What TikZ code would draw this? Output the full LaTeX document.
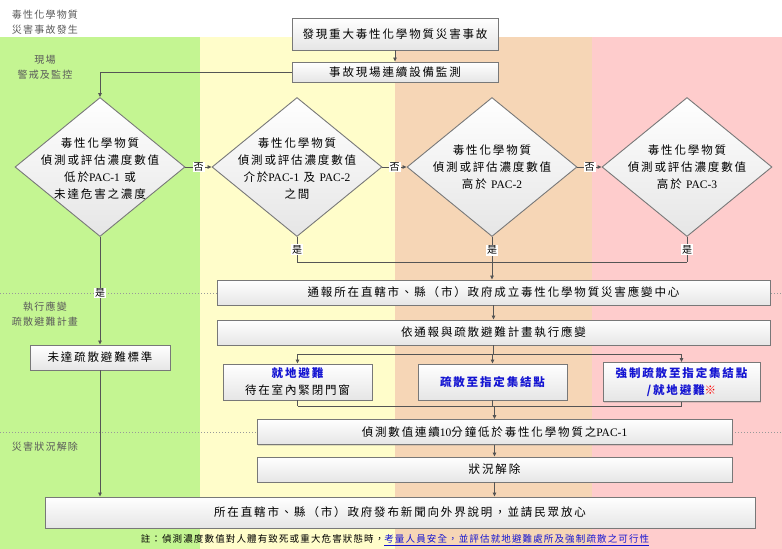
\documentclass[tikz,border=0pt]{standalone}
\usepackage{fontspec}
\setmainfont{Noto Sans CJK TC}
\newfontfamily\lat{Liberation Serif}
\usetikzlibrary{shapes.geometric,arrows.meta,shadows}
\definecolor{bgG}{RGB}{196,245,146}
\definecolor{bgY}{RGB}{255,253,202}
\definecolor{bgO}{RGB}{246,214,182}
\definecolor{bgP}{RGB}{254,204,204}
\definecolor{lineC}{RGB}{85,85,85}
\definecolor{edgeC}{RGB}{120,120,120}
\definecolor{blueT}{RGB}{20,20,210}
\definecolor{sideT}{RGB}{90,90,90}
\newcommand\boxfont{\fontsize{11.5}{17}\selectfont\addfontfeature{LetterSpace=16}}
\newcommand\sidefont{\fontsize{10}{15}\selectfont\addfontfeature{LetterSpace=12}}
\begin{document}
\begin{tikzpicture}[x=1pt,y=-1pt,
  box/.style={draw=edgeC, line width=0.9pt, top color=white, bottom color=black!10,
    minimum height=25pt, inner sep=0pt, align=center, font=\boxfont,
    drop shadow={shadow xshift=1pt,shadow yshift=-1pt,opacity=0.25}},
  dia/.style={diamond, draw=edgeC, line width=0.9pt, top color=white, bottom color=black!10,
    minimum width=170pt, minimum height=139pt, inner sep=0pt},
  dtext/.style={align=center, font=\boxfont, inner sep=0pt},
  ln/.style={draw=lineC, line width=0.8pt},
  arr/.style={ln, -{Triangle[length=4pt,width=3.5pt]}},
  yn/.style={fill=white, inner sep=1pt, font=\fontsize{10}{10}\selectfont},
  side/.style={align=center, font=\sidefont, text=sideT, inner sep=0pt},
  dots/.style={draw=black!40, dotted, line width=1pt}]
\useasboundingbox (0,0) rectangle (782,549);
% background bands
\fill[white] (0,0) rectangle (782,37);
\fill[bgG] (0,37) rectangle (200,549);
\fill[bgY] (200,37) rectangle (395,549);
\fill[bgO] (395,37) rectangle (592,549);
\fill[bgP] (592,37) rectangle (782,549);
\draw[dots] (0,293) -- (782,293);
\draw[dots] (0,432) -- (782,432);
% side labels
\node[side] (s0) at (45,22) {毒性化學物質\\災害事故發生};
\node[side] (s1) at (45,67) {現場\\警戒及監控};
\node[side] (s2) at (45,314) {執行應變\\疏散避難計畫};
\node[side] (s3) at (45,447) {災害狀況解除};
% boxes
\node[box, minimum width=206pt, minimum height=32pt] (top) at (395,34) {發現重大毒性化學物質災害事故};
\node[box, minimum width=206pt, minimum height=20pt] (mon) at (395,72) {事故現場連續設備監測};
% diamonds
\node[dia] (d1) at (100,167) {};
\node[dia] (d2) at (297,167) {};
\node[dia] (d3) at (492,167) {};
\node[dia] (d4) at (687,167) {};
\node[dtext] (d1t) at (100,169) {毒性化學物質\\偵測或評估濃度數值\\低於{\lat PAC-1} 或\\未達危害之濃度};
\node[dtext] (d2t) at (297,169) {毒性化學物質\\偵測或評估濃度數值\\介於{\lat PAC-1} 及 {\lat PAC-2}\\之間};
\node[dtext] (d3t) at (492,167) {毒性化學物質\\偵測或評估濃度數值\\高於 {\lat PAC-2}};
\node[dtext] (d4t) at (687,167) {毒性化學物質\\偵測或評估濃度數值\\高於 {\lat PAC-3}};
\node[box, minimum width=553pt] (notify) at (493.5,292.5) {通報所在直轄市、縣（市）政府成立毒性化學物質災害應變中心};
\node[box, minimum width=553pt] (plan) at (493.5,332.5) {依通報與疏散避難計畫執行應變};
\node[box, minimum width=140pt] (notreach) at (100,357.5) {未達疏散避難標準};
\node[box, minimum width=149pt, minimum height=36pt] (b1) at (297.5,382) {{\color{blueT}\bfseries 就地避難}\\待在室內緊閉門窗};
\node[box, minimum width=149pt, minimum height=36pt] (b2) at (492.5,382) {{\color{blueT}\bfseries 疏散至指定集結點}};
\node[box, minimum width=157pt, minimum height=39pt] (b3) at (681.5,382) {{\color{blueT}\bfseries 強制疏散至指定集結點}\\{\color{blueT}\bfseries /就地避難}{\color{red}※}};
\node[box, minimum width=475pt] (detect) at (494.5,432) {偵測數值連續{\lat 10}分鐘低於毒性化學物質之{\lat PAC-1}};
\node[box, minimum width=475pt] (resolve) at (494.5,469.5) {狀況解除};
\node[box, minimum width=710pt, minimum height=31pt] (final) at (400,512.5) {所在直轄市、縣（市）政府發布新聞向外界說明，並請民眾放心};
\node[font=\fontsize{9.5}{9.5}\selectfont\addfontfeature{LetterSpace=12}, inner sep=0pt] (note) at (395,540) {註：偵測濃度數值對人體有致死或重大危害狀態時，\textcolor{blueT}{\underline{考量人員安全，並評估就地避難處所及強制疏散之可行性}}};
% connectors
\draw[arr] (top) -- (mon);
\draw[arr] (mon.west) -| (d1.north);
\draw[arr] (d1.east) -- node[yn]{否} (d2.west);
\draw[arr] (d2.east) -- node[yn]{否} (d3.west);
\draw[arr] (d3.east) -- node[yn]{否} (d4.west);
\coordinate (j) at (492,262);
\draw[ln] (d2.south |- j) -- (d4.south |- j);
\draw[ln] (d2.south) -- node[yn]{是} (d2.south |- j);
\draw[ln] (d4.south) -- node[yn]{是} (d4.south |- j);
\draw[arr] (d3.south) -- node[yn, pos=0.31]{是} (d3.south |- notify.north);
\draw[arr] (d1.south) -- node[yn, pos=0.52]{是} (notreach.north);
\draw[arr] (notify) -- (plan);
\coordinate (s) at (493.5,354);
\draw[ln] (plan.south) -- (plan.south |- s);
\draw[ln] (b1.north |- s) -- (b3.north |- s);
\draw[arr] (b1.north |- s) -- (b1.north);
\draw[arr] (b2.north |- s) -- (b2.north);
\draw[arr] (b3.north |- s) -- (b3.north);
\coordinate (m) at (494.5,406);
\draw[ln] (b1.south) -- (b1.south |- m);
\draw[ln] (b2.south) -- (b2.south |- m);
\draw[ln] (b3.south) -- (b3.south |- m);
\draw[ln] (b1.south |- m) -- (b3.south |- m);
\draw[arr] (detect.north |- m) -- (detect.north);
\draw[arr] (detect) -- (resolve);
\draw[arr] (resolve) -- (resolve.south |- final.north);
\draw[arr] (notreach) -- (notreach.south |- final.north);
\end{tikzpicture}
\end{document}
